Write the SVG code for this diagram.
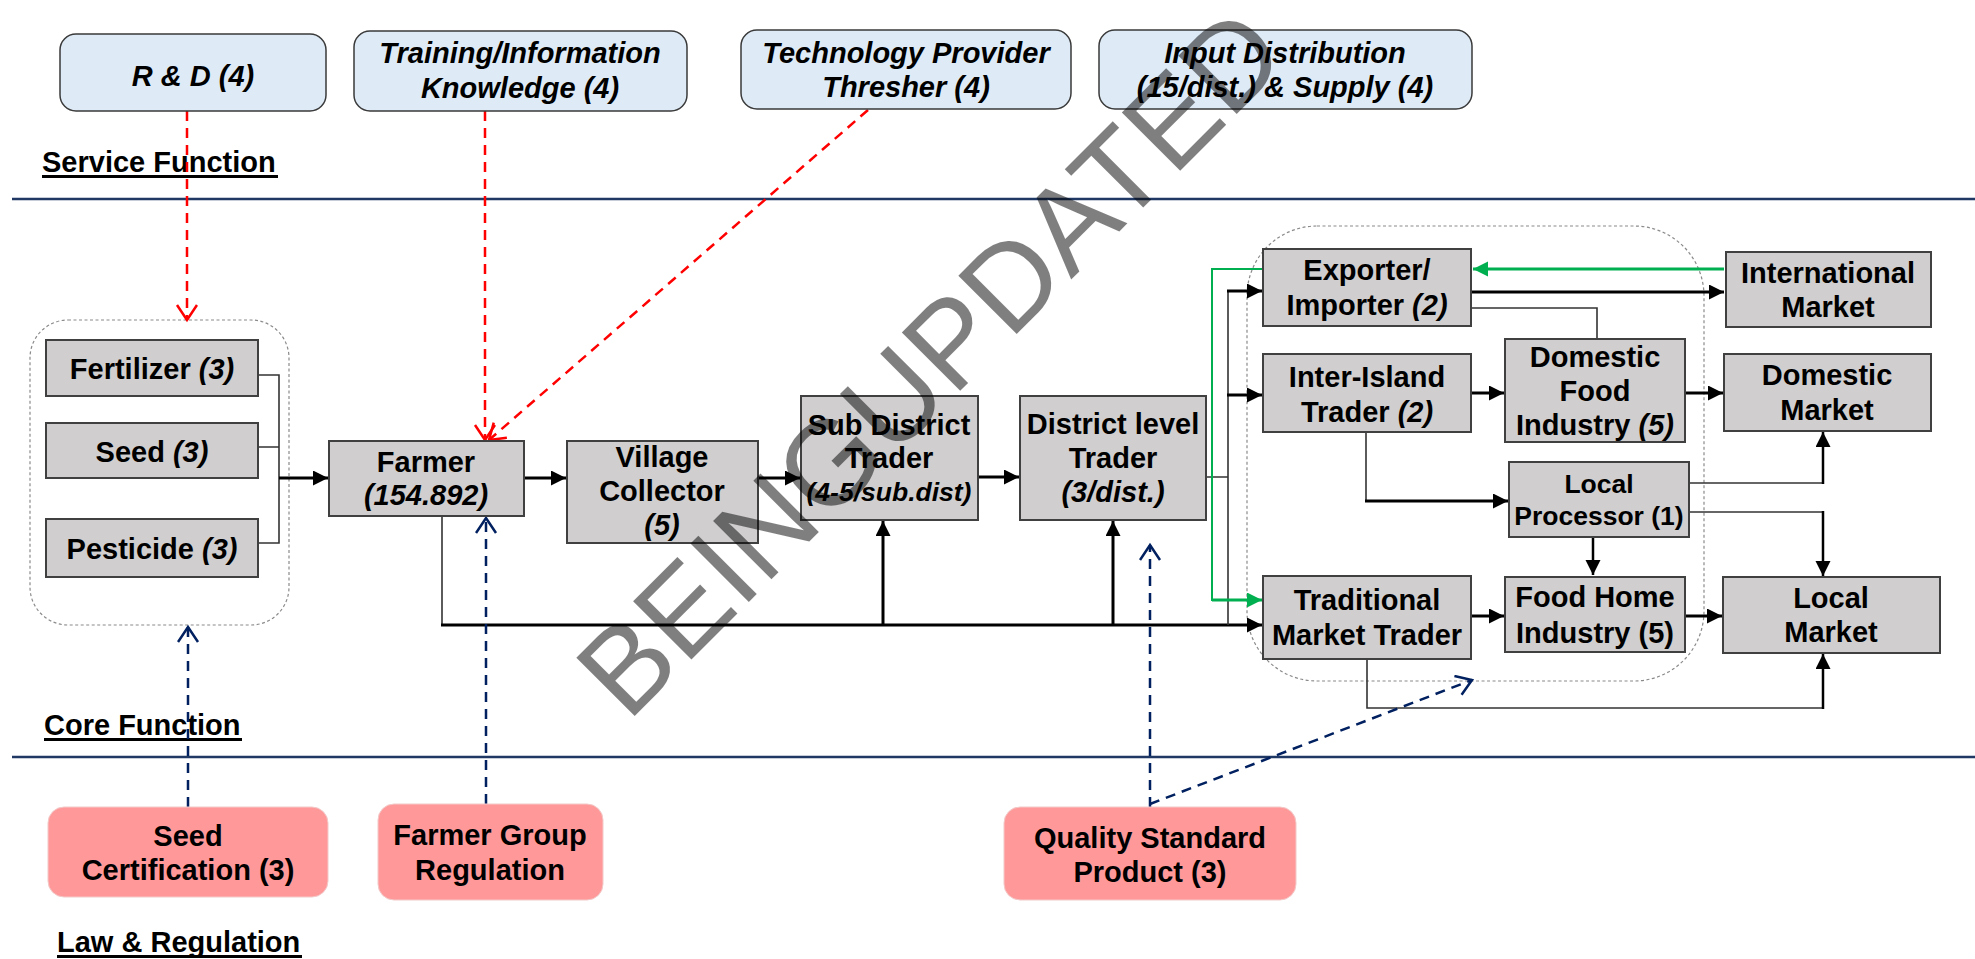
<svg xmlns="http://www.w3.org/2000/svg" width="1975" height="959" viewBox="0 0 1975 959">
<style>
text{font-family:"Liberation Sans",Arial,sans-serif;font-weight:bold;font-size:29px;text-anchor:middle;fill:#000}
.it{font-style:italic}
.svc{fill:#DEEBF7;stroke:#3a3a3a;stroke-width:1.5}
.core{fill:#D0CECE;stroke:#404040;stroke-width:2}
.law{fill:#FF9999;stroke:#f3c9c9;stroke-width:1}
.grp{fill:none;stroke:#8a8a8a;stroke-width:1.2;stroke-dasharray:3 2.5}
.thin{fill:none;stroke:#333;stroke-width:1.6}
.thick{fill:none;stroke:#000;stroke-width:3;marker-end:url(#ah)}
.red{fill:none;stroke:#FF0000;stroke-width:2.5;stroke-dasharray:10 7;marker-end:url(#ahr)}
.blue{fill:none;stroke:#002060;stroke-width:2.5;stroke-dasharray:10 7;marker-end:url(#ahb)}
.grn{fill:none;stroke:#00B050;stroke-width:2}
.div{stroke:#1F3864;stroke-width:2.5}
.lbl{text-anchor:start}
.wm{font-weight:normal;font-size:120px;fill:#000;fill-opacity:0.5}
</style>
<defs>
<marker id="ah" markerUnits="userSpaceOnUse" markerWidth="16" markerHeight="16" refX="15" refY="7.5" orient="auto"><path d="M0,0 L15,7.5 L0,15 z" fill="#000"/></marker>
<marker id="ahg" markerUnits="userSpaceOnUse" markerWidth="16" markerHeight="16" refX="15" refY="7.5" orient="auto"><path d="M0,0 L15,7.5 L0,15 z" fill="#00B050"/></marker>
<marker id="ahr" markerUnits="userSpaceOnUse" markerWidth="22" markerHeight="24" refX="16" refY="11" orient="auto"><path d="M1,1 L16,11 L1,21" fill="none" stroke="#FF0000" stroke-width="2.5"/></marker>
<marker id="ahb" markerUnits="userSpaceOnUse" markerWidth="22" markerHeight="24" refX="16" refY="11" orient="auto"><path d="M1,1 L16,11 L1,21" fill="none" stroke="#002060" stroke-width="2.5"/></marker>
</defs>

<g id="dividers">
<line class="div" x1="12" y1="199" x2="1975" y2="199"/>
<line class="div" x1="12" y1="757" x2="1975" y2="757"/>
</g>

<g id="section-labels">
<text class="lbl" x="42" y="172">Service Function</text>
<rect x="42" y="175" width="236" height="3"/>
<text class="lbl" x="44" y="735">Core Function</text>
<rect x="44" y="738" width="198" height="3"/>
<text class="lbl" x="57" y="952">Law &amp; Regulation</text>
<rect x="57" y="955" width="245" height="3"/>
</g>

<g id="groups">
<rect id="input-group" class="grp" x="30" y="320" width="259" height="305" rx="38"/>
<rect id="market-group" class="grp" x="1247" y="226" width="457" height="455" rx="70"/>
</g>

<g id="connectors">
<path class="thin" d="M258,375 H279 V543 H258 M258,447 H279"/>
<path class="thick" d="M279,478 H328"/>
<path class="thick" d="M524,478 H566"/>
<path class="thick" d="M758,478 H800"/>
<path class="thick" d="M978,477 H1019"/>
<path class="thin" d="M442,516 V625"/>
<path class="thick" d="M441,625 H1262"/>
<path class="thick" d="M883,625 V521"/>
<path class="thick" d="M1113,625 V521"/>
<path class="thin" d="M1206,477 H1228 M1228,291 V625"/>
<path class="thick" d="M1227,291 H1262"/>
<path class="thick" d="M1227,395 H1262"/>
<path class="grn" d="M1263,269 H1212 V600 H1245"/>
<path fill="none" stroke="#00B050" stroke-width="3" marker-end="url(#ahg)" d="M1212,600 H1262"/>
<path class="thick" d="M1471,292 H1724"/>
<path fill="none" stroke="#00B050" stroke-width="3" marker-end="url(#ahg)" d="M1724,269 H1473"/>
<path class="thin" d="M1471,308 H1597 V339"/>
<path class="thick" d="M1471,393 H1504"/>
<path class="thick" d="M1685,393 H1723"/>
<path class="thin" d="M1366,432 V501"/>
<path class="thick" d="M1365,501 H1508"/>
<path class="thin" d="M1689,483 H1823"/>
<path class="thick" d="M1823,484 V432" style="stroke-width:2.5"/>
<path class="thin" d="M1689,512 H1823"/>
<path class="thick" d="M1823,511 V576" style="stroke-width:2.5"/>
<path class="thick" d="M1593,537 V575" style="stroke-width:2.5"/>
<path class="thick" d="M1471,616 H1504"/>
<path class="thick" d="M1685,616 H1722"/>
<path class="thin" d="M1367,659 V708 H1823"/>
<path class="thick" d="M1823,709 V654" style="stroke-width:2.5"/>
<path class="red" d="M187,111 V320"/>
<path class="red" d="M485,111 V440"/>
<path class="red" d="M868,110 L489,440"/>
<path class="blue" d="M188,807 V627"/>
<path class="blue" d="M486,804 V518"/>
<path class="blue" d="M1150,807 V545"/>
<path class="blue" d="M1150,804 L1472,680"/>
</g>

<g id="n-rd"><rect class="svc" x="60" y="34" width="266" height="77" rx="16"/><text class="it" x="193" y="86">R &amp; D (4)</text></g>
<g id="n-training"><rect class="svc" x="354" y="31" width="333" height="80" rx="16"/><text class="it" x="520" y="63">Training/Information</text><text class="it" x="520" y="98">Knowledge (4)</text></g>
<g id="n-tech"><rect class="svc" x="741" y="30" width="330" height="79" rx="16"/><text class="it" x="906" y="63">Technology Provider</text><text class="it" x="906" y="97">Thresher (4)</text></g>
<g id="n-input"><rect class="svc" x="1099" y="30" width="373" height="79" rx="16"/><text class="it" x="1285" y="63">Input Distribution</text><text class="it" x="1285" y="97">(15/dist.) &amp; Supply (4)</text></g>

<g id="n-fertilizer"><rect class="core" x="46" y="340" width="212" height="56"/><text x="152" y="379">Fertilizer <tspan class="it">(3)</tspan></text></g>
<g id="n-seed"><rect class="core" x="46" y="423" width="212" height="55"/><text x="152" y="462">Seed <tspan class="it">(3)</tspan></text></g>
<g id="n-pesticide"><rect class="core" x="46" y="519" width="212" height="58"/><text x="152" y="559">Pesticide <tspan class="it">(3)</tspan></text></g>
<g id="n-farmer"><rect class="core" x="329" y="441" width="195" height="75"/><text x="426" y="472">Farmer</text><text class="it" x="426" y="505">(154.892)</text></g>
<g id="n-village"><rect class="core" x="567" y="441" width="191" height="102"/><text x="662" y="467">Village</text><text x="662" y="501">Collector</text><text class="it" x="662" y="535">(5)</text></g>
<g id="n-subdistrict"><rect class="core" x="801" y="396" width="177" height="124"/><text x="889" y="435">Sub District</text><text x="889" y="468">Trader</text><text class="it" x="889" y="501" style="font-size:26.5px">(4-5/sub.dist)</text></g>
<g id="n-district"><rect class="core" x="1020" y="396" width="186" height="124"/><text x="1113" y="434">District level</text><text x="1113" y="468">Trader</text><text class="it" x="1113" y="502">(3/dist.)</text></g>
<g id="n-exporter"><rect class="core" x="1263" y="249" width="208" height="77"/><text x="1367" y="280">Exporter/</text><text x="1367" y="315">Importer <tspan class="it">(2)</tspan></text></g>
<g id="n-international"><rect class="core" x="1726" y="252" width="205" height="75"/><text x="1828" y="283">International</text><text x="1828" y="317">Market</text></g>
<g id="n-interisland"><rect class="core" x="1263" y="354" width="208" height="78"/><text x="1367" y="387">Inter-Island</text><text x="1367" y="422">Trader <tspan class="it">(2)</tspan></text></g>
<g id="n-dfi"><rect class="core" x="1505" y="339" width="180" height="103"/><text x="1595" y="367">Domestic</text><text x="1595" y="401">Food</text><text x="1595" y="435">Industry <tspan class="it">(5)</tspan></text></g>
<g id="n-domestic"><rect class="core" x="1724" y="354" width="207" height="77"/><text x="1827" y="385">Domestic</text><text x="1827" y="420">Market</text></g>
<g id="n-processor"><rect class="core" x="1509" y="462" width="180" height="75"/><text x="1599" y="493" style="font-size:26.5px">Local</text><text x="1599" y="525" style="font-size:26.5px">Processor (1)</text></g>
<g id="n-traditional"><rect class="core" x="1263" y="576" width="208" height="83"/><text x="1367" y="610">Traditional</text><text x="1367" y="645">Market Trader</text></g>
<g id="n-foodhome"><rect class="core" x="1505" y="577" width="180" height="75"/><text x="1595" y="607">Food Home</text><text x="1595" y="643">Industry (5)</text></g>
<g id="n-local"><rect class="core" x="1723" y="577" width="217" height="76"/><text x="1831" y="608">Local</text><text x="1831" y="642">Market</text></g>

<g id="n-seedcert"><rect class="law" x="48" y="807" width="280" height="90" rx="16"/><text x="188" y="846">Seed</text><text x="188" y="880">Certification (3)</text></g>
<g id="n-farmergroup"><rect class="law" x="378" y="804" width="225" height="96" rx="16"/><text x="490" y="845">Farmer Group</text><text x="490" y="880">Regulation</text></g>
<g id="n-quality"><rect class="law" x="1004" y="807" width="292" height="93" rx="16"/><text x="1150" y="848">Quality Standard</text><text x="1150" y="882">Product (3)</text></g>

<g id="watermark"><text class="wm" transform="translate(929,361) rotate(-45)" x="0" y="43">BEINGUPDATED</text></g>
</svg>
